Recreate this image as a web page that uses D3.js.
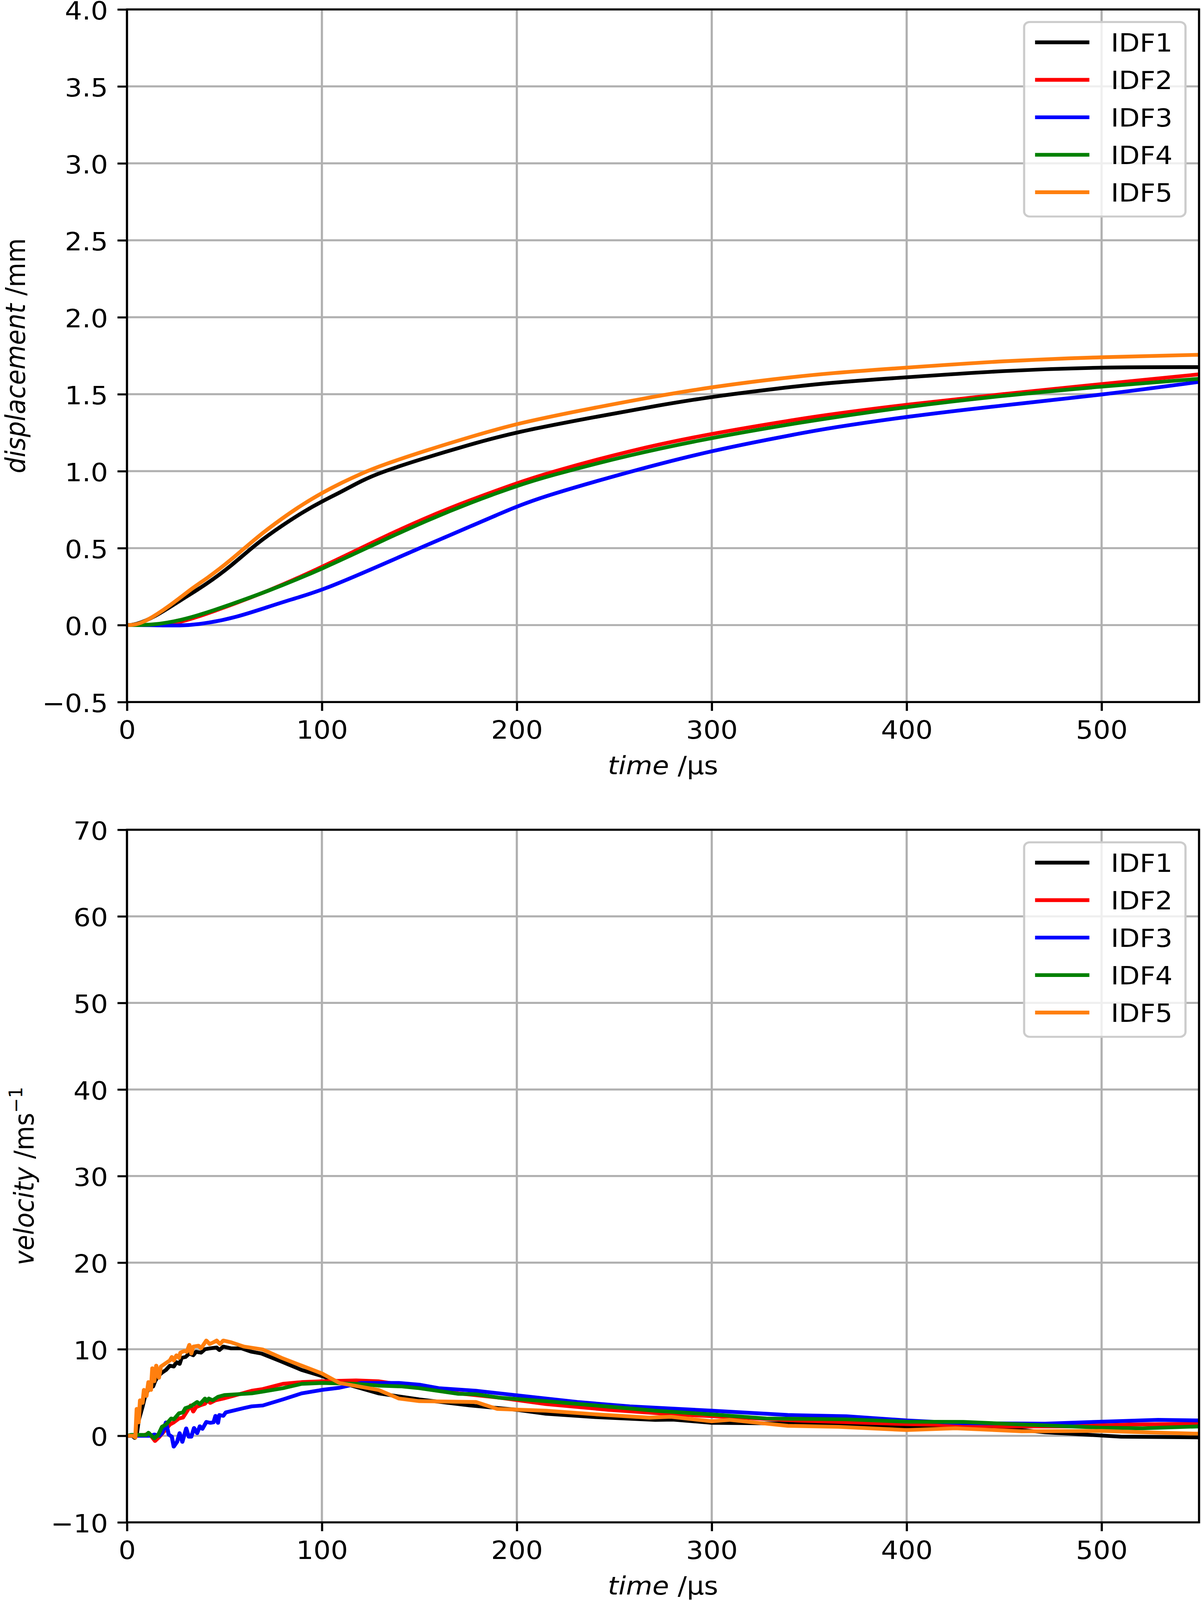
<!DOCTYPE html>
<html>
<head>
<meta charset="utf-8">
<script src="https://cdn.jsdelivr.net/npm/d3@7"></script>
<style>
  html, body { margin: 0; padding: 0; background: #fff; overflow: hidden; }
  svg { display: block; width: 100vw; height: 100vh; }
  text { font-family: "DejaVu Sans", sans-serif; }
</style>
</head>
<body>
<svg id="fig" viewBox="0 0 3074 4410" preserveAspectRatio="none"></svg>
<script>
// series names and colours (matplotlib k, r, b, g, tab:orange)
var seriesNames = ["IDF1", "IDF2", "IDF3", "IDF4", "IDF5"]
var seriesColors = ["#000000", "#ff0000", "#0000ff", "#008000", "#ff7f0e"]

var timeTicks = [0, 100, 200, 300, 400, 500]
var dispTicks = [-0.5, 0, 0.5, 1, 1.5, 2, 2.5, 3, 3.5, 4]
var velTicks = [-10, 0, 10, 20, 30, 40, 50, 60, 70]

// displacement /mm, [time µs, value]
var dispIDF1 = [[0,0],[4,0],[14,0.05],[28,0.166],[40,0.259],[53.5,0.384],[66.8,0.534],[80.2,0.652],[90.2,0.734],[100.2,0.805],[110.3,0.868],[120.3,0.938],[130.3,0.993],[150,1.075],[175,1.17],[200,1.256],[240.9,1.354],[271.5,1.425],[300,1.484],[332.8,1.536],[360.2,1.575],[400,1.61],[450,1.654],[500,1.676],[550,1.676]]
var dispIDF2 = [[0,0],[18,0],[28,0.019],[42,0.077],[73.5,0.225],[100.2,0.377],[130.3,0.565],[154.7,0.705],[176,0.812],[200,0.922],[215,0.985],[259.3,1.139],[300,1.245],[343,1.335],[360.2,1.368],[400,1.433],[450,1.502],[500,1.566],[550,1.629]]
var dispIDF3 = [[0,0],[14,0],[28,-0.006],[42,0.013],[56,0.051],[70,0.108],[84,0.166],[100.2,0.225],[130.3,0.39],[154.7,0.525],[176,0.64],[200,0.772],[215,0.841],[258,0.998],[300,1.135],[343,1.24],[360.2,1.28],[400,1.355],[450,1.429],[500,1.495],[550,1.58]]
var dispIDF4 = [[0,0],[14,0],[28,0.032],[42,0.083],[73.5,0.225],[100.2,0.365],[130.3,0.545],[154.7,0.685],[176,0.795],[200,0.905],[215,0.965],[258,1.107],[300,1.218],[343,1.311],[360.2,1.345],[400,1.419],[450,1.492],[500,1.551],[550,1.6]]
var dispIDF5 = [[0,0],[4,0],[9.8,0.025],[21,0.115],[35,0.255],[40.1,0.294],[53.5,0.423],[66.8,0.573],[80.2,0.699],[90.2,0.785],[100.2,0.86],[110.3,0.926],[120.3,0.985],[130.3,1.037],[154.7,1.14],[176,1.222],[200,1.311],[240.9,1.415],[271.5,1.487],[300,1.547],[332.8,1.6],[360.2,1.637],[400,1.673],[450,1.717],[500,1.742],[550,1.756]]

// velocity /ms-1, [time µs, value]
var velIDF1 = [[0,0],[2.7,0],[4,-0.25],[5,0.15],[6,1.8],[8,3.4],[9.3,4.6],[11.3,5.5],[13.4,5.7],[14.4,6.3],[16,6.9],[18,7.3],[20,7.6],[22,8.1],[24,8],[25.4,8.5],[27,8.3],[28,9],[30,9.1],[32,9.5],[34,9.3],[35.4,9.7],[38,9.6],[40,10],[42.7,10.1],[46,10.2],[47.4,9.9],[49.4,10.3],[53.4,10.1],[58.7,10.1],[64,9.7],[69,9.5],[79,8.6],[89.6,7.6],[100,6.9],[109,6.2],[129,4.9],[150,4.2],[176,3.5],[200,3],[215,2.54],[241,2.15],[271,1.84],[280,1.87],[300,1.5],[339,1.42],[400,1.08],[450,0.87],[471,0.4],[510,-0.1],[550,-0.18]]
var velIDF2 = [[0,0],[8.7,0.05],[11.3,0.3],[14.4,-0.6],[16.7,-0.1],[19.4,0.6],[22,1.3],[24,1.55],[26.7,2],[28.7,2.1],[30.4,2.7],[32.7,3.5],[34,2.8],[35.4,3.3],[37.4,3.5],[40,3.7],[41.4,4.1],[42.7,3.8],[45.4,4.1],[49.4,4.3],[56,4.7],[64,5.2],[69.7,5.4],[80,6],[89.6,6.2],[100,6.3],[117.5,6.4],[129,6.3],[141,5.9],[150,5.6],[170,4.9],[191,4.4],[215,3.66],[247,3],[279,2.5],[300,2.26],[343,1.77],[400,1.35],[450,1.08],[482,1.08],[514,1.3],[550,1.4]]
var velIDF3 = [[0,0],[12,0],[14,0.15],[16.7,0],[18,0.3],[20,1.55],[21.4,0.15],[23,-0.1],[24,-1.25],[25.7,-0.7],[27,0.3],[28.4,-0.7],[30.4,0.85],[31.7,-0.1],[33,-0.1],[34.4,0.9],[36,0.3],[37.4,1.1],[38.7,0.8],[40.7,1.6],[42.7,1.5],[44.4,1.55],[45.4,2.3],[46.7,1.5],[47.4,2.4],[49.4,2.3],[50.7,2.7],[60,3.2],[64,3.4],[69.7,3.5],[80,4.2],[89.6,4.9],[100,5.3],[109,5.55],[120,6.1],[139.5,6.1],[150,5.9],[160,5.5],[179,5.2],[191,4.9],[215,4.3],[231,3.9],[258,3.4],[300,2.9],[339,2.4],[369,2.26],[400,1.77],[429,1.45],[471,1.4],[500,1.63],[529,1.84],[550,1.77]]
var velIDF4 = [[0,0],[2,0.1],[10,0.1],[11,0.35],[14,-0.3],[16,0.1],[18,1.05],[20,1.3],[22.7,2],[24,1.9],[26.7,2.6],[28.7,2.7],[30,3.2],[32.7,3.4],[36,3.9],[37.4,3.65],[40,4.3],[41,4],[42,4.3],[44,4.1],[46.7,4.5],[50,4.7],[64,4.9],[69.7,5.1],[80,5.5],[89.6,6],[100,6.1],[117.5,6],[129,5.8],[141,5.7],[150,5.5],[170,4.85],[179,4.8],[191,4.4],[215,4],[243,3.45],[271,2.9],[300,2.47],[328,2],[369,1.9],[400,1.63],[429,1.6],[471,1.2],[500,0.94],[521,0.87],[550,1.08]]
var velIDF5 = [[0,0],[3,0],[4.3,-0.2],[5,3.1],[6,1.55],[6.7,4.1],[8,3.8],[8.7,5.3],[10,4.6],[11,6.2],[12.3,5.3],[13,7.8],[14,6.3],[15,8.1],[16.4,6.7],[17.4,8],[20,8.4],[22,8.7],[23,9.1],[24,8.7],[25.4,9.3],[26.7,9],[27.4,9.6],[29.4,9.8],[30.7,9.7],[32,10.5],[33,9.5],[34,10.3],[36.7,10.4],[38,10.1],[40.7,11],[42.4,10.6],[44.4,10.8],[46,11],[47.7,10.6],[49.4,11],[53.4,10.8],[60,10.3],[69.7,9.96],[79.3,9],[89.6,8.1],[100,7.2],[109,6.1],[129,5.3],[139.5,4.3],[150,4],[179,3.9],[190,3.1],[215,2.9],[241,2.47],[268,2.1],[279,2.2],[300,1.68],[309,1.84],[339,1.15],[365,1.03],[400,0.66],[425,0.87],[459,0.52],[500,0.56],[525,0.38],[550,0.24]]

var dispSeries = [dispIDF1, dispIDF2, dispIDF3, dispIDF4, dispIDF5]
var velSeries = [velIDF1, velIDF2, velIDF3, velIDF4, velIDF5]

// sizes at ~500 dpi
var fs = 69.4
var lw = 10.4
var thin = 5.56
var tickLen = 24.3
var tickPad = 24.3

var svg = d3.select("#fig")
svg.append("rect").attr("width", 3074).attr("height", 4410).attr("fill", "white")

var left = 325, right = 3069

function panel(id, top, bottom, yDomain, yTicks, yFmt, series, curve, ylabel, ylabelX) {
    var x = d3.scaleLinear().domain([0, 550]).range([left, right])
    var y = d3.scaleLinear().domain(yDomain).range([bottom, top])
    var g = svg.append("g").attr("id", id)

    g.append("clipPath").attr("id", id + "-clip")
        .append("rect").attr("x", left).attr("y", top)
        .attr("width", right - left).attr("height", bottom - top)

    //grid
    var grid = g.append("g").attr("stroke", "#b0b0b0").attr("stroke-width", thin)
    grid.selectAll(".gx").data(timeTicks).enter().append("line")
        .attr("x1", d => x(d)).attr("x2", d => x(d))
        .attr("y1", top).attr("y2", bottom)
    grid.selectAll(".gy").data(yTicks).enter().append("line")
        .attr("x1", left).attr("x2", right)
        .attr("y1", d => y(d)).attr("y2", d => y(d))

    //lines
    var line = d3.line().curve(curve).x(d => x(d[0])).y(d => y(d[1]))
    g.append("g").attr("clip-path", "url(#" + id + "-clip)")
        .selectAll("path").data(series).enter().append("path")
        .attr("d", line)
        .attr("fill", "none")
        .attr("stroke", (d, i) => seriesColors[i])
        .attr("stroke-width", lw)
        .attr("stroke-linejoin", "round")
        .attr("stroke-linecap", "square")

    //axes
    var xAxis = d3.axisBottom(x).tickValues(timeTicks).tickSize(tickLen).tickPadding(tickPad)
    var yAxis = d3.axisLeft(y).tickValues(yTicks).tickSize(tickLen).tickPadding(tickPad).tickFormat(yFmt)
    var gx = g.append("g").attr("transform", "translate(0," + bottom + ")").call(xAxis)
    var gy = g.append("g").attr("transform", "translate(" + left + ",0)").call(yAxis)
    ;[gx, gy].forEach(function (a) {
        a.select(".domain").remove()
        a.selectAll("line").attr("stroke", "black").attr("stroke-width", thin)
        a.selectAll("text").attr("fill", "black")
            .style("font-size", fs + "px").style("font-family", "DejaVu Sans")
    })
    gx.selectAll("text").attr("dy", null).attr("y", tickLen + tickPad + 0.76 * fs)
    gy.selectAll("text").attr("dy", null).attr("y", 27)

    //frame
    g.append("rect").attr("x", left).attr("y", top)
        .attr("width", right - left).attr("height", bottom - top)
        .attr("fill", "none").attr("stroke", "black").attr("stroke-width", thin)
        .attr("stroke-linejoin", "miter")

    //x label
    var xl = g.append("text").attr("x", (left + right) / 2)
        .attr("y", bottom + tickLen + tickPad + fs + 27.8 + 0.76 * fs)
        .attr("text-anchor", "middle").style("font-size", fs + "px")
    xl.append("tspan").style("font-style", "italic").text("time")
    xl.append("tspan").text(" /µs")

    //y label
    var yl = g.append("text")
        .attr("transform", "translate(" + ylabelX + "," + (top + bottom) / 2 + ") rotate(-90)")
        .attr("text-anchor", "middle").style("font-size", fs + "px")
    yl.append("tspan").style("font-style", "italic").text(ylabel[0])
    yl.append("tspan").text(ylabel[1])
    if (ylabel[2]) {
        yl.append("tspan").attr("dy", -0.42 * fs).style("font-size", (fs * 0.7) + "px").text(ylabel[2])
    }

    //legend
    var lg = g.append("g").attr("transform", "translate(" + (right - 34.7 - 413) + "," + (top + 34.7) + ")")
    lg.append("rect").attr("width", 413).attr("height", 536).attr("rx", 14).attr("ry", 14)
        .attr("fill", "white").attr("fill-opacity", 0.8)
        .attr("stroke", "#cccccc").attr("stroke-width", thin)
    var row = lg.selectAll(".row").data(seriesNames).enter().append("g")
        .attr("transform", (d, i) => "translate(0," + (56 + i * 103.3) + ")")
    row.append("line").attr("x1", 28).attr("x2", 167)
        .attr("stroke", (d, i) => seriesColors[i]).attr("stroke-width", lw)
    row.append("text").attr("x", 222).attr("y", 0.729 * fs / 2)
        .style("font-size", fs + "px").text(d => d)
}

var fmt1 = d3.format(".1f")
panel("disp", 26, 1935, [-0.5, 4.0], dispTicks, fmt1, dispSeries, d3.curveBasis, ["displacement", " /mm"], 64)
panel("vel", 2287, 4196, [-10, 70], velTicks, d3.format("d"), velSeries, d3.curveLinear, ["velocity", " /ms", "−1"], 86)
</script>
</body>
</html>
